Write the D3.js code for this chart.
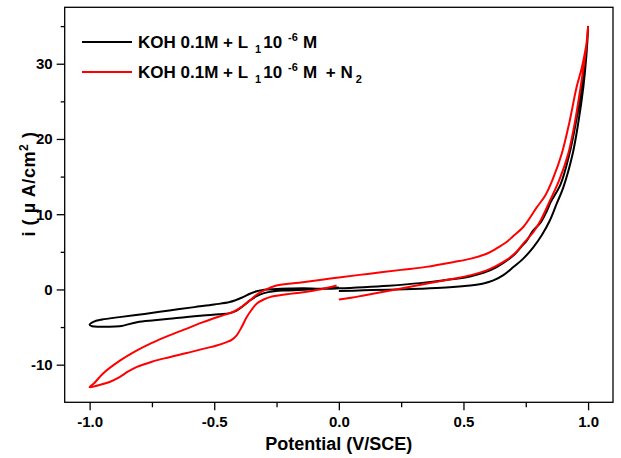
<!DOCTYPE html>
<html><head><meta charset="utf-8">
<script src="https://cdn.jsdelivr.net/npm/d3@7"></script>
<style>
html,body{margin:0;padding:0;background:#fff;}
text{font-family:"Liberation Sans",Arial,sans-serif;font-weight:bold;fill:#000;}
</style></head>
<body>
<svg id="chart" width="621" height="458"></svg>
<script>
// ---- data ----
const xTicks = [-1.0, -0.5, 0.0, 0.5, 1.0];
const xMinorTicks = [-0.75, -0.25, 0.25, 0.75];
const yTicks = [-10, 0, 10, 20, 30];
const yMinorTicks = [-5, 5, 15, 25, 35];
const seriesNames = ["KOH 0.1M + L1 10-6 M", "KOH 0.1M + L1 10-6 M + N2"];
const seriesColors = ["#000000", "#ff0000"];

// black curve: potential (V/SCE) and current (µA/cm²), in scan order
const blackV = [0.00,0.10,0.20,0.325,0.43,0.526,0.58,0.62,0.66,0.70,0.74,0.78,0.814,0.847,0.874,0.90,0.938,0.96,0.981,0.993,1.0,
  0.995,0.975,0.95,0.925,0.89,0.85,0.834,0.81,0.78,0.754,0.73,0.70,0.633,0.58,0.526,0.43,0.325,0.20,0.10,0.00,-0.076,-0.143,
  -0.2,-0.25,-0.30,-0.33,-0.357,-0.39,-0.438,-0.5,-0.58,-0.68,-0.78,-0.88,-0.95,-0.985,-1.0,-0.99,-0.95,-0.88,-0.81,-0.74,-0.68,
  -0.61,-0.545,-0.48,-0.438,-0.41,-0.38,-0.357,-0.33,-0.30,-0.26,-0.21,-0.12,-0.036,0.0];
const blackI = [-0.22,-0.12,-0.03,0.09,0.25,0.53,0.8,1.2,1.9,2.97,4.1,5.6,7.2,9.2,11.4,13.5,18.0,22.0,26.9,31.0,34.9,
  32.0,26.9,22.0,18.0,14.0,11.6,10.4,8.9,7.85,6.5,5.6,4.5,2.97,2.2,1.73,1.25,0.84,0.5,0.3,0.15,0.09,0.17,
  0.12,0.05,-0.04,-0.25,-0.57,-1.1,-1.68,-2.0,-2.35,-2.8,-3.25,-3.68,-4.0,-4.3,-4.7,-4.9,-4.95,-4.9,-4.35,-4.1,-3.9,
  -3.65,-3.46,-3.3,-3.15,-2.8,-2.1,-1.46,-0.9,-0.49,-0.25,-0.13,0.0,0.17,0.25];

// red curve (with N2)
const redV = [0.00,0.05,0.10,0.18,0.26,0.35,0.46,0.53,0.59,0.63,0.67,0.71,0.74,0.78,0.81,0.847,0.885,0.92,0.947,0.97,0.99,1.0,
  0.995,0.975,0.954,0.925,0.894,0.86,0.83,0.794,0.74,0.70,0.673,0.63,0.593,0.53,0.459,0.35,0.25,0.124,0.0,-0.076,-0.16,-0.25,
  -0.30,-0.33,-0.357,-0.39,-0.425,-0.48,-0.545,-0.61,-0.68,-0.75,-0.81,-0.88,-0.947,-0.98,-1.0,
  -0.96,-0.92,-0.88,-0.845,-0.81,-0.75,-0.68,-0.61,-0.545,-0.49,-0.45,-0.43,-0.41,-0.39,-0.37,-0.35,-0.33,-0.30,-0.277,
  -0.21,-0.143,-0.076,-0.016,-0.009];
const redI = [-1.33,-1.1,-0.8,-0.3,0.2,0.75,1.42,1.9,2.5,3.1,3.86,4.9,6.1,7.6,9.2,11.8,14.6,18.0,22.2,26.9,31.5,34.9,
  33.0,29.5,26.9,22.2,18.0,14.8,12.6,10.9,8.3,7.1,6.3,5.4,4.74,4.1,3.63,3.0,2.6,2.1,1.6,1.25,0.9,0.53,
  -0.13,-0.7,-1.46,-2.3,-3.0,-3.6,-4.35,-5.2,-6.1,-7.1,-8.1,-9.5,-11.2,-12.4,-13.0,
  -12.7,-12.3,-11.66,-10.9,-10.3,-9.6,-9.0,-8.45,-7.9,-7.45,-7.0,-6.7,-6.1,-5.0,-3.7,-2.7,-1.9,-1.3,-1.02,
  -0.65,-0.36,0.0,0.45,0.53];

// ---- drawing ----
const svg = d3.select("#chart");
const L = 64.7, R = 613, T = 7.3, B = 402.3;
const x = d3.scaleLinear().domain([-1.1, 1.1]).range([L, R]);
const y = d3.scaleLinear().domain([-15, 37.5]).range([B, T]);

const path = d3.line().x(d => x(d[0])).y(d => y(d[1])).curve(d3.curveCatmullRom.alpha(0.5));

const series = [
  {V: blackV, I: blackI, color: seriesColors[0]},
  {V: redV, I: redI, color: seriesColors[1]}
];
const g = svg.append("g");
series.forEach(s => {
  const pts = s.V.map((v, k) => [v, s.I[k]]);
  g.append("path").attr("d", path(pts)).attr("fill", "none")
    .attr("stroke", s.color).attr("stroke-width", 2).attr("stroke-linejoin", "round");
});

// frame
svg.append("rect").attr("x", L).attr("y", T).attr("width", R - L).attr("height", B - T)
  .attr("fill", "none").attr("stroke", "#000").attr("stroke-width", 1.3);

// x axis
const xAxis = d3.axisBottom(x).tickValues(xTicks).tickFormat(d => d.toFixed(1)).tickSize(8).tickPadding(6);
const gx = svg.append("g").attr("transform", `translate(0,${B})`).call(xAxis);
gx.select(".domain").remove();
gx.selectAll("line").attr("stroke-width", 1.3);
gx.selectAll("text").style("font-size", "15px").attr("fill", "#000");
const xAxisMinor = d3.axisBottom(x).tickValues(xMinorTicks).tickFormat("").tickSize(5);
const gxm = svg.append("g").attr("transform", `translate(0,${B})`).call(xAxisMinor);
gxm.select(".domain").remove();
gxm.selectAll("line").attr("stroke-width", 1.3);

// y axis
const yAxis = d3.axisLeft(y).tickValues(yTicks).tickFormat(d => String(d)).tickSize(8).tickPadding(4);
const gy = svg.append("g").attr("transform", `translate(${L},0)`).call(yAxis);
gy.select(".domain").remove();
gy.selectAll("line").attr("stroke-width", 1.3);
gy.selectAll("text").style("font-size", "15px").attr("fill", "#000");
const yAxisMinor = d3.axisLeft(y).tickValues(yMinorTicks).tickFormat("").tickSize(4);
const gym = svg.append("g").attr("transform", `translate(${L},0)`).call(yAxisMinor);
gym.select(".domain").remove();
gym.selectAll("line").attr("stroke-width", 1.3);

// axis titles
svg.append("text").attr("x", (L + R) / 2).attr("y", 450).attr("text-anchor", "middle")
  .style("font-size", "18px").text("Potential (V/SCE)");
const yt = svg.append("text").attr("transform", "translate(35,184) rotate(-90)")
  .attr("text-anchor", "middle").style("font-size", "18px").style("letter-spacing", "0.6px");
yt.append("tspan").text("i ( µ A/cm");
yt.append("tspan").attr("dy", -7).style("font-size", "12px").text("2");
yt.append("tspan").attr("dy", 7).text(" )");

// legend
const legY = [42, 72];
legY.forEach((ly, k) => {
  svg.append("line").attr("x1", 82).attr("x2", 132).attr("y1", ly).attr("y2", ly)
    .attr("stroke", seriesColors[k]).attr("stroke-width", 2);
  const t = svg.append("text").attr("x", 138).attr("y", ly + 6).style("font-size", "17px");
  t.append("tspan").text("KOH 0.1M + L");
  t.append("tspan").attr("dy", 5).attr("dx", 7).style("font-size", "11px").text("1");
  t.append("tspan").attr("dy", -5).attr("dx", 2).text("10");
  t.append("tspan").attr("dy", -7).attr("dx", 6).style("font-size", "11px").text("-6");
  t.append("tspan").attr("dy", 7).attr("dx", 5).text("M");
  if (k === 1) {
    t.append("tspan").attr("dx", 4).text(" + N");
    t.append("tspan").attr("dy", 5).attr("dx", 3).style("font-size", "11px").text("2");
  }
});
</script>
</body></html>
